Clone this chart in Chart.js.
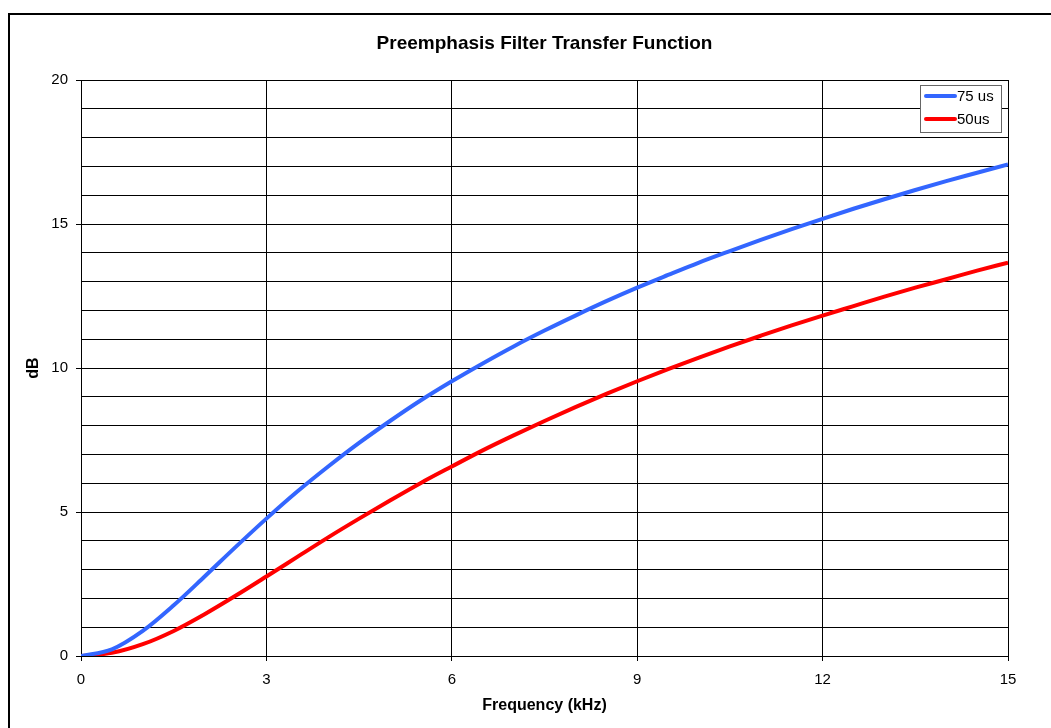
<!DOCTYPE html>
<html>
<head>
<meta charset="utf-8">
<script src="https://cdn.jsdelivr.net/npm/chart.js@4.4.0/dist/chart.umd.min.js"></script>
<style>
  html, body { margin: 0; padding: 0; background: #fff; overflow: hidden; }
  #frame { position: absolute; left: 8px; top: 13px; width: 1200px; height: 900px; border: 2px solid #000; box-sizing: border-box; }
  #wrap { position: absolute; left: 0; top: 0; width: 1051px; height: 728px; }
</style>
</head>
<body>
<div id="frame"></div>
<div id="wrap"><canvas id="myChart"></canvas></div>
<script>
//Preemphasis filter response, every 0.5 kHz
const freqs = [
    0, 0.5, 1, 1.5, 2, 2.5, 3, 3.5, 4, 4.5, 5, 5.5, 6, 6.5, 7, 7.5,
    8, 8.5, 9, 9.5, 10, 10.5, 11, 11.5, 12, 12.5, 13, 13.5, 14, 14.5, 15,
];
const db75 = [
    0, 0.23, 0.87, 1.76, 2.76, 3.78, 4.77, 5.71, 6.58, 7.40, 8.16, 8.88, 9.54, 10.16, 10.75, 11.30,
    11.82, 12.32, 12.79, 13.23, 13.66, 14.06, 14.45, 14.82, 15.18, 15.53, 15.86, 16.18, 16.49, 16.78, 17.07,
];
const db50 = [
    0, 0.11, 0.41, 0.87, 1.45, 2.09, 2.76, 3.44, 4.12, 4.77, 5.40, 6.01, 6.58, 7.14, 7.66, 8.16,
    8.64, 9.10, 9.54, 9.96, 10.36, 10.75, 11.12, 11.48, 11.82, 12.15, 12.48, 12.79, 13.08, 13.38, 13.66,
];
const seriesLabels = ["75 us", "50us"];
const majorY = [0, 5, 10, 15, 20];

Chart.defaults.font.family = "'Liberation Sans', Arial, sans-serif";
Chart.defaults.font.size = 15;
Chart.defaults.color = "#000";

const toXY = (vals) => vals.map((v, i) => ({ x: freqs[i], y: v }));

// setup
const data = {
    datasets: [
        {
            label: seriesLabels[0],
            data: toXY(db75),
            borderColor: "rgb(51, 102, 255)",
            backgroundColor: "rgb(51, 102, 255)",
            borderWidth: 4,
            pointRadius: 0,
            cubicInterpolationMode: "monotone",
        },
        {
            label: seriesLabels[1],
            data: toXY(db50),
            borderColor: "rgb(255, 0, 0)",
            backgroundColor: "rgb(255, 0, 0)",
            borderWidth: 4,
            pointRadius: 0,
            cubicInterpolationMode: "monotone",
        },
    ],
};

// legend box drawn inside the plot area, Excel style
const boxLegend = {
    id: "boxLegend",
    afterDraw(chart) {
        const ctx = chart.ctx;
        const x = 920.5, y = 85.5, w = 81, h = 47;
        ctx.save();
        ctx.fillStyle = "#fff";
        ctx.fillRect(x, y, w, h);
        ctx.strokeStyle = "#666";
        ctx.lineWidth = 1;
        ctx.strokeRect(x, y, w, h);
        ctx.font = "15px 'Liberation Sans', Arial, sans-serif";
        ctx.textBaseline = "middle";
        chart.data.datasets.forEach((ds, i) => {
            const ly = 96 + i * 23;
            ctx.strokeStyle = ds.borderColor;
            ctx.lineWidth = 4;
            ctx.lineCap = "round";
            ctx.beginPath();
            ctx.moveTo(926, ly);
            ctx.lineTo(955, ly);
            ctx.stroke();
            ctx.fillStyle = "#000";
            ctx.fillText(ds.label, 957, ly + 1);
        });
        ctx.restore();
    },
};

//config
const config = {
    type: "line",
    data: data,
    plugins: [boxLegend],
    options: {
        responsive: true,
        maintainAspectRatio: false,
        animation: false,
        layout: {
            padding: { left: 0, right: 43, top: 0, bottom: 0 },
        },
        scales: {
            x: {
                type: "linear",
                min: 0,
                max: 15,
                afterFit: (scale) => { scale.height = 72; },
                grid: {
                    color: "#000",
                    lineWidth: 1,
                    tickLength: 5,
                    tickColor: "#000",
                },
                border: { color: "#000" },
                ticks: {
                    stepSize: 3,
                    padding: 10,
                    maxRotation: 0,
                },
                title: {
                    display: true,
                    text: "Frequency (kHz)",
                    font: { weight: "bold", size: 16 },
                    padding: { top: 0, bottom: 12.4 },
                },
            },
            y: {
                min: 0,
                max: 20,
                afterFit: (scale) => { scale.width = 81; },
                grid: {
                    color: "#000",
                    lineWidth: 1,
                    tickLength: 5,
                    tickColor: (context) => {
                        return majorY.includes(context.tick.value) ? "#000" : "rgba(0,0,0,0)";
                    },
                },
                border: { color: "#000" },
                ticks: {
                    stepSize: 1,
                    autoSkip: false,
                    padding: 8,
                    callback: function (value) {
                        return majorY.includes(value) ? value : "";
                    },
                },
                title: {
                    display: true,
                    text: "dB",
                    font: { weight: "bold", size: 16 },
                    padding: { top: 24, bottom: 0 },
                },
            },
        },
        plugins: {
            title: {
                display: true,
                fullSize: false,
                text: "Preemphasis Filter Transfer Function",
                font: { weight: "bold", size: 19 },
                padding: { top: 32.6, bottom: 24.6 },
            },
            legend: { display: false },
            tooltip: { enabled: true },
        },
    },
};

//render init block
const myChart = new Chart(
    document.getElementById("myChart").getContext("2d"),
    config
);
</script>
</body>
</html>
